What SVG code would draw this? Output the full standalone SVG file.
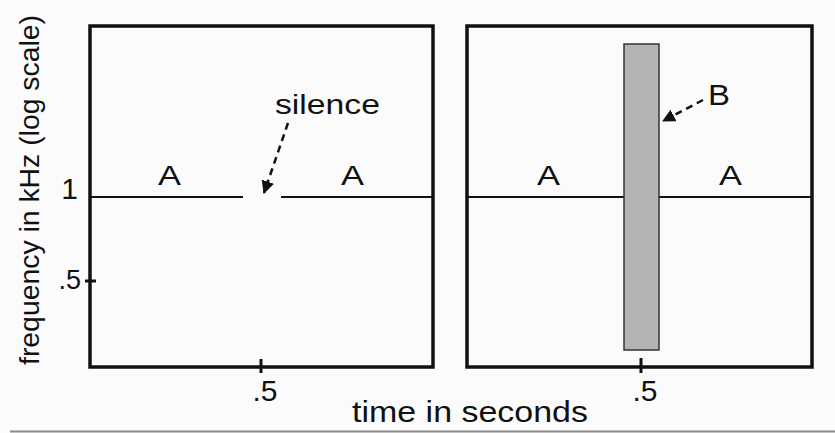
<svg xmlns="http://www.w3.org/2000/svg" width="835" height="433" viewBox="0 0 835 433">
  <style>
    .lbl { font-family: "Liberation Sans", Arial, sans-serif; fill: #111; }
    .frame { fill: none; stroke: #111; stroke-width: 3.5; }
    .freq { stroke: #111; stroke-width: 2; }
    .tick { stroke: #111; stroke-width: 3; }
    .dash { fill: none; stroke: #111; stroke-width: 2.5; stroke-dasharray: 7 5; }
  </style>
  <defs>
    <marker id="arrow" viewBox="0 0 12 12" refX="11" refY="6" markerWidth="13" markerHeight="13" markerUnits="userSpaceOnUse" orient="auto">
      <path d="M0,0 L12,6 L0,12 Z" fill="#111"/>
    </marker>
  </defs>
  <rect width="835" height="433" fill="#fbfbfb"/>
  <line x1="10" y1="431.5" x2="835" y2="431.5" stroke="#8a8a8a" stroke-width="2"/>

  <g id="y-axis-label">
    <text class="lbl" font-size="28" transform="translate(39,365) rotate(-90)" textLength="350" lengthAdjust="spacingAndGlyphs">frequency in kHz (log scale)</text>
  </g>
  <g id="x-axis-label">
    <text class="lbl" font-size="30" x="352" y="422" textLength="236" lengthAdjust="spacingAndGlyphs">time in seconds</text>
  </g>

  <g id="panel-left">
    <rect class="frame" x="90" y="26" width="343" height="341"/>
    <line class="freq" x1="90" y1="197" x2="243" y2="197"/>
    <line class="freq" x1="281" y1="197" x2="433" y2="197"/>
    <line class="tick" x1="85" y1="281" x2="96" y2="281"/>
    <line class="tick" x1="261" y1="359" x2="261" y2="373"/>
    <text class="lbl" font-size="30" x="78" y="199" text-anchor="end">1</text>
    <text class="lbl" font-size="27" x="81" y="289" text-anchor="end">.5</text>
    <text class="lbl" font-size="30" x="265" y="401" text-anchor="middle">.5</text>
    <text class="lbl" font-size="28" x="158" y="185" textLength="23" lengthAdjust="spacingAndGlyphs">A</text>
    <text class="lbl" font-size="28" x="341" y="185" textLength="23" lengthAdjust="spacingAndGlyphs">A</text>
    <text class="lbl" font-size="27" x="275" y="114" textLength="105" lengthAdjust="spacingAndGlyphs">silence</text>
  </g>

  <g id="panel-right">
    <rect class="frame" x="467" y="26" width="345" height="341"/>
    <line class="freq" x1="467" y1="197" x2="812" y2="197"/>
    <rect x="624" y="44" width="35" height="306" fill="#b4b4b4" stroke="#333" stroke-width="1.5"/>
    <line class="tick" x1="641" y1="358" x2="641" y2="373"/>
    <text class="lbl" font-size="30" x="645" y="401" text-anchor="middle">.5</text>
    <text class="lbl" font-size="28" x="537" y="185" textLength="23" lengthAdjust="spacingAndGlyphs">A</text>
    <text class="lbl" font-size="28" x="719" y="185" textLength="23" lengthAdjust="spacingAndGlyphs">A</text>
    <text class="lbl" font-size="29" x="708" y="105" textLength="22" lengthAdjust="spacingAndGlyphs">B</text>
  </g>

  <g id="connectors">
    <path class="dash" d="M288,123 L264,193" marker-end="url(#arrow)"/>
    <path class="dash" d="M703,100 L663,121" marker-end="url(#arrow)"/>
  </g>
</svg>
